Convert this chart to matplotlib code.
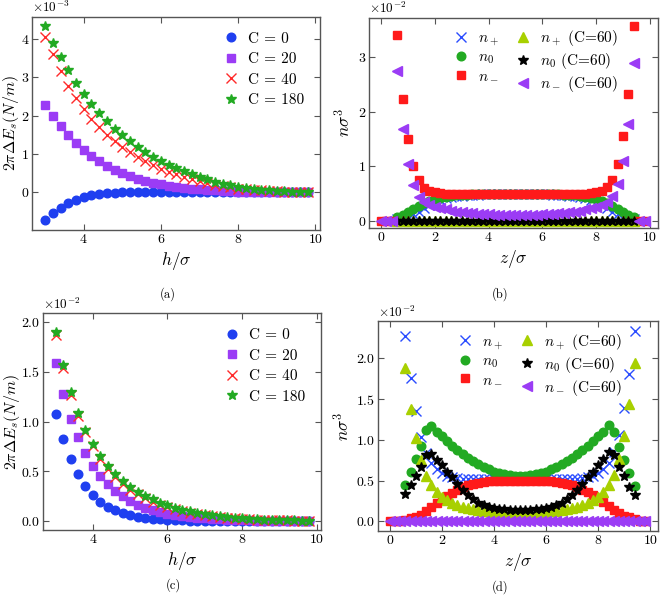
import numpy as np
import matplotlib
matplotlib.use("Agg")
import matplotlib.pyplot as plt
from matplotlib.ticker import ScalarFormatter

plt.rcParams['mathtext.fontset'] = 'cm'
plt.rcParams['font.family'] = 'serif'
plt.rcParams['font.serif'] = ['cmr10', 'DejaVu Serif']
plt.rcParams['axes.formatter.use_mathtext'] = True
plt.rcParams['axes.unicode_minus'] = False

# ---- panels (a), (c): energy vs separation ----
h = np.round(np.arange(3.0, 9.81, 0.2), 1)
c_labels = ["C = 0", "C = 20", "C = 40", "C = 180"]

# (a) values in units of 1e-3
a_c0 = [-0.73, -0.55, -0.40, -0.28, -0.19, -0.12, -0.07, -0.04, -0.02, -0.01,
        0.0, 0.0, 0.0, 0.0, 0.0, 0.0, 0.0, 0.0, 0.0, 0.0, 0.0, 0.0, 0.0, 0.0, 0.0,
        0.0, 0.0, 0.0, 0.0, 0.0, 0.0, 0.0, 0.0, 0.0, 0.0]
a_c20 = [2.28, 2.00, 1.74, 1.50, 1.29, 1.11, 0.95, 0.81, 0.69, 0.59, 0.50, 0.42,
         0.36, 0.30, 0.25, 0.21, 0.17, 0.14, 0.12, 0.10, 0.08, 0.06, 0.05, 0.04,
         0.03, 0.02, 0.02, 0.01, 0.01, 0.01, 0.0, 0.0, 0.0, 0.0, 0.0]
a_c40 = [4.05, 3.60, 3.15, 2.78, 2.45, 2.16, 1.92, 1.70, 1.50, 1.33, 1.18, 1.04,
         0.92, 0.81, 0.71, 0.62, 0.54, 0.47, 0.40, 0.34, 0.29, 0.24, 0.20, 0.16,
         0.13, 0.10, 0.08, 0.06, 0.05, 0.04, 0.03, 0.02, 0.01, 0.01, 0.0]
a_c180 = [4.33, 3.90, 3.52, 3.18, 2.86, 2.57, 2.31, 2.07, 1.86, 1.66, 1.49, 1.33,
          1.18, 1.05, 0.93, 0.82, 0.72, 0.63, 0.55, 0.47, 0.40, 0.34, 0.28, 0.23,
          0.19, 0.15, 0.12, 0.09, 0.07, 0.05, 0.04, 0.03, 0.02, 0.01, 0.0]

# (c) values in units of 1e-2
c_c0 = [1.08, 0.82, 0.62, 0.47, 0.35, 0.265, 0.195, 0.145, 0.11, 0.08, 0.06, 0.045,
        0.035, 0.025, 0.018, 0.013, 0.01, 0.007, 0.005, 0.004, 0.003, 0.002, 0.001,
        0.001, 0.0, 0.0, 0.0, 0.0, 0.0, 0.0, 0.0, 0.0, 0.0, 0.0, 0.0]
c_c20 = [1.59, 1.28, 1.03, 0.84, 0.68, 0.55, 0.45, 0.37, 0.30, 0.25, 0.20, 0.165,
         0.135, 0.11, 0.09, 0.075, 0.06, 0.05, 0.04, 0.032, 0.026, 0.021, 0.017,
         0.013, 0.01, 0.008, 0.006, 0.005, 0.004, 0.003, 0.002, 0.001, 0.001, 0.0, 0.0]
c_c40 = [1.87, 1.54, 1.27, 1.06, 0.89, 0.75, 0.62, 0.52, 0.44, 0.37, 0.31, 0.27,
         0.23, 0.19, 0.16, 0.14, 0.12, 0.10, 0.085, 0.07, 0.06, 0.05, 0.04, 0.035,
         0.03, 0.025, 0.02, 0.015, 0.012, 0.01, 0.008, 0.006, 0.004, 0.002, 0.0]
c_c180 = [1.90, 1.57, 1.30, 1.09, 0.91, 0.77, 0.65, 0.55, 0.47, 0.40, 0.34, 0.29,
          0.25, 0.22, 0.185, 0.16, 0.135, 0.115, 0.10, 0.085, 0.07, 0.06, 0.05, 0.04,
          0.035, 0.03, 0.025, 0.02, 0.015, 0.012, 0.01, 0.008, 0.006, 0.004, 0.002]

# ---- panels (b), (d): density profiles ----
z_full = np.round(np.arange(0.0, 9.81, 0.2), 1)   # 0.0 .. 9.8
z_in = np.round(np.arange(0.6, 9.41, 0.2), 1)     # 0.6 .. 9.4
n_labels = [r"$n_+$", r"$n_0$", r"$n_-$",
            r"$n_+$ (C=60)", r"$n_0$ (C=60)", r"$n_-$ (C=60)"]

# (b) values in units of 1e-2
b_np = [0.03, 0.05, 0.08, 0.12, 0.17, 0.23, 0.29, 0.34, 0.38, 0.41, 0.43, 0.45,
        0.46, 0.47, 0.48, 0.48, 0.49, 0.49, 0.49, 0.49, 0.49, 0.49,
        0.49,
        0.49, 0.49, 0.49, 0.49, 0.49, 0.49, 0.48, 0.48, 0.47, 0.46, 0.45, 0.43,
        0.41, 0.38, 0.34, 0.29, 0.23, 0.17, 0.12, 0.08, 0.05, 0.03]
b_n0 = [0.07, 0.11, 0.16, 0.21, 0.27, 0.32, 0.36, 0.40, 0.42, 0.44, 0.46, 0.47,
        0.48, 0.48, 0.49, 0.49, 0.49, 0.49, 0.49, 0.49, 0.49, 0.49,
        0.49,
        0.49, 0.49, 0.49, 0.49, 0.49, 0.49, 0.49, 0.49, 0.48, 0.48, 0.47, 0.46,
        0.44, 0.42, 0.40, 0.36, 0.32, 0.27, 0.21, 0.16, 0.11, 0.07]
b_nm = [0.0, 0.0, 0.0,
        3.40, 2.23, 1.50, 1.00, 0.74, 0.61, 0.55, 0.52,
        0.51, 0.50, 0.50, 0.50, 0.50, 0.50, 0.50, 0.50, 0.50, 0.50, 0.50, 0.50,
        0.50, 0.50, 0.50, 0.50, 0.50, 0.50, 0.50, 0.50, 0.50, 0.50, 0.50, 0.50,
        0.50, 0.50, 0.50, 0.50, 0.51,
        0.52, 0.55, 0.62, 0.75, 1.05, 1.56, 2.33, 3.56,
        0.0, 0.0]
b_np60 = [0.0] * 45
b_n060 = [0.0] * 45
b_nm60 = [0.0, 0.0, 0.0,
          2.74, 1.68, 1.05, 0.65, 0.44, 0.35, 0.30, 0.26, 0.23, 0.21, 0.19, 0.17,
          0.16, 0.15, 0.14, 0.13, 0.125, 0.12, 0.115, 0.11, 0.11, 0.11,
          0.11,
          0.11, 0.11, 0.11, 0.115, 0.12, 0.125, 0.13, 0.14, 0.15, 0.16, 0.17,
          0.19, 0.21, 0.23, 0.26, 0.30, 0.35, 0.45, 0.68, 1.09, 1.77, 2.89,
          0.0, 0.0]

# (d) values in units of 1e-2
d_np = [2.28, 1.76, 1.35, 1.03, 0.84, 0.71, 0.64, 0.59, 0.56, 0.54, 0.53, 0.52,
        0.52, 0.52, 0.52, 0.52, 0.52, 0.52, 0.52, 0.52, 0.52, 0.52,
        0.52,
        0.52, 0.52, 0.52, 0.52, 0.52, 0.52, 0.52, 0.52, 0.52, 0.52, 0.52, 0.53,
        0.54, 0.56, 0.59, 0.64, 0.72, 0.85, 1.06, 1.39, 1.81, 2.34]
d_n0 = [0.45, 0.60, 0.76, 0.93, 1.12, 1.17, 1.10, 1.05, 0.99, 0.93, 0.88, 0.83,
        0.78, 0.74, 0.70, 0.67, 0.64, 0.61, 0.59, 0.575, 0.565, 0.555,
        0.55,
        0.555, 0.565, 0.575, 0.59, 0.61, 0.64, 0.67, 0.70, 0.74, 0.78, 0.83, 0.88,
        0.93, 0.99, 1.05, 1.10, 1.18, 1.10, 0.91, 0.75, 0.59, 0.43]
d_nm = [0.0, 0.0, 0.0,
        0.02, 0.04, 0.05, 0.08, 0.13, 0.17, 0.22, 0.26, 0.31, 0.35, 0.39, 0.42,
        0.44, 0.46, 0.47, 0.48, 0.49, 0.50, 0.50, 0.50, 0.50, 0.50,
        0.50,
        0.50, 0.50, 0.50, 0.50, 0.50, 0.49, 0.48, 0.47, 0.46, 0.44, 0.42, 0.39,
        0.36, 0.32, 0.28, 0.24, 0.19, 0.14, 0.10, 0.07, 0.05, 0.03,
        0.0, 0.0]
d_np60 = [1.88, 1.38, 1.02, 0.75, 0.56, 0.44, 0.36, 0.30, 0.26, 0.23, 0.20, 0.18,
          0.16, 0.15, 0.14, 0.13, 0.12, 0.115, 0.11, 0.105, 0.10, 0.10,
          0.10,
          0.10, 0.10, 0.105, 0.11, 0.115, 0.12, 0.13, 0.14, 0.15, 0.16, 0.18, 0.20,
          0.23, 0.26, 0.30, 0.36, 0.44, 0.57, 0.77, 1.05, 1.44, 1.94]
d_n060 = [0.33, 0.44, 0.55, 0.67, 0.81, 0.83, 0.75, 0.69, 0.61, 0.54, 0.46, 0.39,
          0.32, 0.27, 0.23, 0.20, 0.18, 0.165, 0.155, 0.148, 0.143, 0.14,
          0.14,
          0.14, 0.143, 0.148, 0.155, 0.165, 0.18, 0.20, 0.23, 0.27, 0.32, 0.39, 0.46,
          0.54, 0.61, 0.69, 0.77, 0.85, 0.82, 0.67, 0.55, 0.42, 0.32]
d_nm60 = [0.0] * 50

spine_col = "#555555"


def style_axes(ax):
    ax.tick_params(direction="in", top=True, right=True, length=4, width=0.8,
                   labelsize=10, color=spine_col, pad=2)
    for s in ax.spines.values():
        s.set_color(spine_col)
        s.set_linewidth(1.0)
    fmt = ScalarFormatter(useMathText=True)
    fmt.set_powerlimits((0, 0))
    ax.yaxis.set_major_formatter(fmt)
    ax.yaxis.get_offset_text().set_fontsize(9.5)


def energy_panel(ax, series, scale, ylim, yticks, ylab_x):
    styles = [("o", "#1f3ff0", 6.2), ("s", "#9b3cf5", 6.2), ("x", "#ff2a2a", 7), ("*", "#22aa22", 7.5)]
    for vals, lab, (m, c, ms) in zip(series, c_labels, styles):
        ax.plot(h, np.array(vals) * scale, ls="none", marker=m, color=c, ms=ms,
                mew=1.0, label=lab)
    ax.set_xlim(2.66, 10.12)
    ax.set_ylim(ylim[0] * scale, ylim[1] * scale)
    ax.set_xticks([4, 6, 8, 10])
    ax.set_yticks(np.array(yticks) * scale)
    ax.set_xlabel(r"$h/\sigma$", fontsize=12.5, labelpad=3)
    ax.set_ylabel(r"$2\pi\Delta E_s(N/m)$", fontsize=11.5)
    ax.yaxis.set_label_coords(ylab_x, 0.5)
    style_axes(ax)
    ax.legend(loc="upper right", frameon=False, fontsize=11, handletextpad=0.4,
              labelspacing=0.45, borderaxespad=0.6, handlelength=1.5)


def density_panel(ax, series, ylim, yticks):
    styles = [("x", "#2a4cff", 6.5), ("o", "#22aa22", 6.2), ("s", "#ff1a1a", 6.2),
              ("^", "#a8d000", 6.5), ("*", "#000000", 7), ("<", "#9b3cf5", 6.5)]
    grids = [z_in, z_in, z_full, z_in, z_in, z_full]
    for vals, zz, lab, (m, c, ms) in zip(series, grids, n_labels, styles):
        ax.plot(zz, np.array(vals) * 1e-2, ls="none", marker=m, color=c, ms=ms,
                mew=1.0, label=lab)
    ax.set_xlim(-0.45, 10.3)
    ax.set_ylim(ylim[0] * 1e-2, ylim[1] * 1e-2)
    ax.set_xticks([0, 2, 4, 6, 8, 10])
    ax.set_yticks(np.array(yticks) * 1e-2)
    ax.set_xlabel(r"$z/\sigma$", fontsize=12.5, labelpad=3)
    ax.set_ylabel(r"$n\sigma^3$", fontsize=12.5, labelpad=3)
    style_axes(ax)
    ax.legend(loc="upper center", bbox_to_anchor=(0.57, 1.0), ncol=2, frameon=False,
              fontsize=11, handletextpad=0.4, labelspacing=0.2, columnspacing=0.8,
              handlelength=1.5, borderaxespad=0.3)


fig = plt.figure(figsize=(6.61, 5.98), dpi=100)

ax_a = fig.add_axes([0.0484, 0.6154, 0.4357, 0.3570])
energy_panel(ax_a, [a_c0, a_c20, a_c40, a_c180], 1e-3, (-0.98, 4.58), [0, 1, 2, 3, 4],
             -0.038)

ax_b = fig.add_axes([0.5582, 0.6187, 0.4372, 0.3520])
density_panel(ax_b, [b_np, b_n0, b_nm, b_np60, b_n060, b_nm60], (-0.13, 3.72), [0, 1, 2, 3])

ax_c = fig.add_axes([0.0650, 0.1137, 0.4206, 0.3629])
energy_panel(ax_c, [c_c0, c_c20, c_c40, c_c180], 1e-2, (-0.09, 2.09),
             [0.0, 0.5, 1.0, 1.5, 2.0], -0.0755)

ax_d = fig.add_axes([0.5719, 0.1120, 0.4236, 0.3512])
density_panel(ax_d, [d_np, d_n0, d_nm, d_np60, d_n060, d_nm60], (-0.12, 2.46),
              [0.0, 0.5, 1.0, 1.5, 2.0])

for txt, x, y in [("(a)", 0.254, 0.508), ("(b)", 0.756, 0.508),
                  ("(c)", 0.262, 0.022), ("(d)", 0.756, 0.019)]:
    fig.text(x, y, txt, ha="center", va="center", fontsize=9)

fig.savefig("out.png", dpi=100)
